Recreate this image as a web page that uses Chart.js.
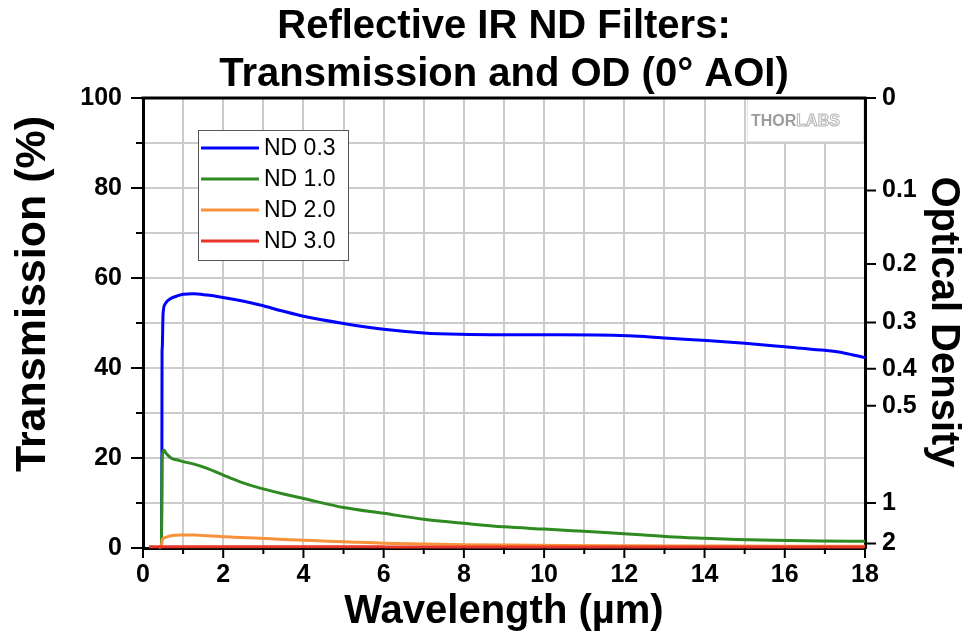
<!DOCTYPE html>
<html>
<head>
<meta charset="utf-8">
<title>Reflective IR ND Filters</title>
<script src="https://cdn.jsdelivr.net/npm/chart.js@4.4.1/dist/chart.umd.min.js"></script>
<style>
  html, body { margin: 0; padding: 0; background: #fff; }
  #wrap { width: 972px; height: 641px; }
</style>
</head>
<body>
<div id="wrap"><canvas id="chart" width="972" height="641"></canvas></div>
<script>
// --- data: wavelength (µm) / transmission (%) ---
const seriesLabels = ["ND 0.3", "ND 1.0", "ND 2.0", "ND 3.0"];
const seriesColors = ["#0000ff", "#2f8a22", "#f7923a", "#e8352a"];

const wlND03 = [0.40, 0.46, 0.47, 0.475, 0.48, 0.50, 0.55, 0.62, 0.72, 0.85, 1.0, 1.25, 1.6, 1.92, 2.42, 2.92, 3.5, 4.0, 5.0, 6.0, 7.0, 7.9, 9.0, 10.4, 11.7, 12.5, 13.1, 14.05, 15.0, 16.0, 16.9, 17.5, 18.0];
const tND03  = [0.1, 0.3, 15.8, 43.6, 44.5, 52.0, 54.2, 55.0, 55.6, 56.0, 56.4, 56.5, 56.2, 55.8, 55.0, 54.0, 52.6, 51.5, 49.9, 48.6, 47.8, 47.5, 47.4, 47.4, 47.3, 47.0, 46.6, 46.1, 45.5, 44.7, 44.0, 43.3, 42.3];

const wlND10 = [0.40, 0.46, 0.47, 0.48, 0.52, 0.58, 0.72, 0.84, 1.0, 1.25, 1.6, 2.0, 2.42, 2.92, 3.5, 4.0, 5.0, 6.0, 7.0, 8.0, 9.0, 10.0, 10.7, 11.2, 11.8, 12.5, 13.1, 14.0, 14.8, 15.7, 16.9, 18.0];
const tND10  = [0.1, 0.5, 15.8, 20.5, 21.8, 21.0, 19.9, 19.6, 19.2, 18.7, 17.7, 16.2, 14.7, 13.3, 12.0, 11.0, 9.0, 7.7, 6.4, 5.5, 4.7, 4.2, 3.85, 3.6, 3.26, 2.9, 2.5, 2.15, 1.9, 1.7, 1.55, 1.5];

const wlND20 = [0.40, 0.46, 0.48, 0.55, 0.67, 0.92, 1.3, 1.6, 2.25, 2.92, 3.5, 4.2, 5.0, 6.0, 7.0, 8.0, 9.1, 10.5, 12.0, 14.0, 16.0, 18.0];
const tND20  = [0.1, 0.5, 1.8, 2.3, 2.65, 2.9, 2.9, 2.7, 2.4, 2.15, 1.9, 1.65, 1.4, 1.05, 0.9, 0.75, 0.65, 0.55, 0.5, 0.45, 0.4, 0.4];

const wlND30 = [0.15, 1, 3, 6, 9, 12, 15, 18];
const tND30  = [0.3, 0.3, 0.3, 0.25, 0.25, 0.2, 0.2, 0.2];

// right axis: optical density marks, placed at T = 100 * 10^-OD
const odTicks = [0, 0.1, 0.2, 0.3, 0.4, 0.5, 1, 2];
const odTickLabels = ["0", "0.1", "0.2", "0.3", "0.4", "0.5", "1", "2"];

const FONT = "'Liberation Sans', Arial, Helvetica, sans-serif";
const gridColor = "#cccccc";

const toPoints = (xs, ys) => xs.map((x, i) => ({ x: x, y: ys[i] }));
const seriesData = [toPoints(wlND03, tND03), toPoints(wlND10, tND10), toPoints(wlND20, tND20), toPoints(wlND30, tND30)];

// watermark box in the upper right corner, drawn over the grid
const logoPlugin = {
  id: "logo",
  beforeDatasetsDraw(chart) {
    const c = chart.ctx;
    c.save();
    c.fillStyle = "#fff";
    c.fillRect(747, 100, 116, 42);
    c.strokeStyle = "#e4e4e4";
    c.lineWidth = 1;
    c.strokeRect(747.5, 99.5, 116, 42);
    c.font = "bold 16px " + FONT;
    c.textBaseline = "middle";
    c.fillStyle = "#9c9c9c";
    c.fillText("THOR", 751, 122);
    const w = c.measureText("THOR").width;
    c.strokeStyle = "#b4b4b4";
    c.lineWidth = 1;
    c.strokeText("LABS", 751 + w, 122);
    c.restore();
  }
};

// frame on top, tick marks, legend and titles
const framePlugin = {
  id: "frame",
  afterDraw(chart) {
    const c = chart.ctx;
    const a = chart.chartArea;
    const xs = chart.scales.x, ys = chart.scales.y, od = chart.scales.od;
    c.save();
    c.strokeStyle = "#000";
    c.lineWidth = 3;
    c.beginPath();
    c.moveTo(a.left - 1.5, a.top);
    c.lineTo(a.right + 1.5, a.top);
    c.stroke();

    c.lineWidth = 2;
    c.beginPath();
    for (let v = 0; v <= 18; v++) {
      const px = xs.getPixelForValue(v);
      c.moveTo(px, a.bottom);
      c.lineTo(px, a.bottom + (v % 2 === 0 ? 10 : 6));
    }
    for (let v = 0; v <= 100; v += 10) {
      const py = ys.getPixelForValue(v);
      c.moveTo(a.left, py);
      c.lineTo(a.left - (v % 20 === 0 ? 12 : 7), py);
    }
    odTicks.forEach(d => {
      const py = od.getPixelForValue(100 * Math.pow(10, -d));
      c.moveTo(a.right, py);
      c.lineTo(a.right + 11, py);
    });
    c.stroke();

    // legend
    const lx = 198, ly = 130, lw = 150, lh = 130;
    c.fillStyle = "#fff";
    c.fillRect(lx, ly, lw, lh);
    c.strokeStyle = "#555";
    c.lineWidth = 1;
    c.strokeRect(lx + 0.5, ly + 0.5, lw, lh);
    c.font = "23px " + FONT;
    c.textBaseline = "middle";
    c.textAlign = "left";
    chart.data.datasets.forEach((ds, i) => {
      const yy = 148 + i * 31;
      c.strokeStyle = ds.borderColor;
      c.lineWidth = 3;
      c.beginPath();
      c.moveTo(201, yy);
      c.lineTo(259, yy);
      c.stroke();
      c.fillStyle = "#000";
      c.fillText(ds.label, 264, yy + 1);
    });

    // titles
    c.fillStyle = "#000";
    c.textAlign = "center";
    c.textBaseline = "alphabetic";
    c.font = "bold 40px " + FONT;
    c.fillText("Reflective IR ND Filters:", 504, 38);
    c.fillText("Transmission and OD (0° AOI)", 504, 86);
    c.fillText("Wavelength (µm)", 504, 623);

    c.save();
    c.translate(45, 294);
    c.rotate(-Math.PI / 2);
    c.font = "bold 43px " + FONT;
    c.fillText("Transmission (%)", 0, 0);
    c.restore();

    c.save();
    c.translate(932, 322);
    c.rotate(Math.PI / 2);
    c.font = "bold 40px " + FONT;
    c.fillText("Optical Density", 0, 0);
    c.restore();
    c.restore();
  }
};

const tickFont = { family: FONT, size: 25, weight: "bold" };

new Chart(document.getElementById("chart"), {
  type: "line",
  data: {
    datasets: seriesData.map((d, i) => ({
      label: seriesLabels[i],
      data: d,
      borderColor: seriesColors[i],
      backgroundColor: seriesColors[i],
      borderWidth: 3,
      pointRadius: 0,
      cubicInterpolationMode: "monotone",
      order: 3 - i,
      clip: 4
    }))
  },
  options: {
    responsive: false,
    animation: false,
    devicePixelRatio: 1,
    layout: { padding: { top: 98, left: 0, right: 0, bottom: 0 } },
    plugins: { legend: { display: false }, tooltip: { enabled: false }, title: { display: false } },
    scales: {
      x: {
        type: "linear",
        min: 0, max: 18,
        ticks: {
          stepSize: 1, autoSkip: false, maxRotation: 0, padding: 12,
          color: "#000", font: tickFont,
          callback: v => (v % 2 === 0 ? v : "")
        },
        grid: { color: gridColor, lineWidth: 2, drawTicks: false },
        border: { color: "#000", width: 3 },
        afterFit: s => { s.height = 93; }
      },
      y: {
        position: "left",
        min: 0, max: 100,
        ticks: {
          stepSize: 10, autoSkip: false, padding: 21,
          color: "#000", font: tickFont,
          callback: v => (v % 20 === 0 ? v : "")
        },
        grid: { color: gridColor, lineWidth: 2, drawTicks: false },
        border: { color: "#000", width: 3 },
        afterFit: s => { s.width = 143; }
      },
      od: {
        position: "right",
        min: 0, max: 100,
        afterBuildTicks: s => { s.ticks = odTicks.map(d => ({ value: 100 * Math.pow(10, -d) })); },
        ticks: {
          autoSkip: false, padding: 17,
          color: "#000", font: tickFont,
          callback: (v, i) => odTickLabels[i]
        },
        grid: { drawOnChartArea: false, drawTicks: false },
        border: { color: "#000", width: 3 },
        afterFit: s => { s.width = 107; }
      }
    }
  },
  plugins: [logoPlugin, framePlugin]
});
</script>
</body>
</html>
